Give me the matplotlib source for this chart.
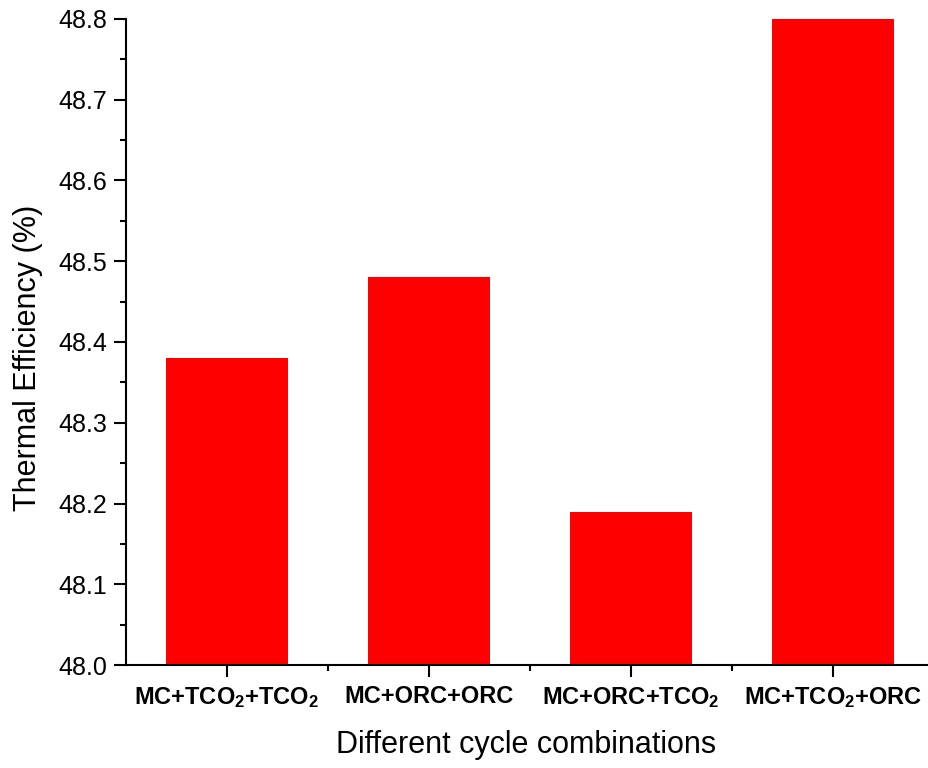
import matplotlib
matplotlib.use("Agg")
import matplotlib.pyplot as plt
from matplotlib.ticker import MultipleLocator, FixedLocator

plt.rcParams['font.family'] = ['Liberation Sans', 'DejaVu Sans']
plt.rcParams['mathtext.fontset'] = 'custom'
plt.rcParams['mathtext.bf'] = 'Liberation Sans:bold'
plt.rcParams['mathtext.rm'] = 'Liberation Sans:bold'
plt.rcParams['mathtext.default'] = 'bf'

# data
categories = [r'MC+TCO$_2$+TCO$_2$', 'MC+ORC+ORC',
              r'MC+ORC+TCO$_2$', r'MC+TCO$_2$+ORC']
efficiency = [48.38, 48.48, 48.19, 48.80]
positions = [1, 2, 3, 4]

fig = plt.figure(figsize=(9.29, 7.68), dpi=100)
ax = fig.add_axes([0.1356, 0.1341, 0.8622, 0.8412])

ax.bar(positions, [v - 48.0 for v in efficiency], width=0.6, bottom=48.0,
       color='#ff0000', edgecolor='none')

ax.set_xlim(0.5, 4.465)
ax.set_ylim(48.0, 48.8)

ax.set_xticks(positions)
ax.set_xticklabels(categories, fontsize=17, fontweight='bold')
ax.xaxis.set_minor_locator(FixedLocator([1.5, 2.5, 3.5]))
ax.yaxis.set_major_locator(MultipleLocator(0.1))
ax.yaxis.set_minor_locator(MultipleLocator(0.05))
ax.yaxis.set_major_formatter(matplotlib.ticker.FormatStrFormatter('%.1f'))

for s in ['top', 'right']:
    ax.spines[s].set_visible(False)
for s in ['left', 'bottom']:
    ax.spines[s].set_linewidth(1.5)

ax.tick_params(axis='both', which='major', direction='out', length=8.5, width=1.5)
ax.tick_params(axis='both', which='minor', direction='out', length=4.5, width=1.5)
ax.tick_params(axis='y', which='major', labelsize=18, pad=5)
ax.tick_params(axis='x', which='major', pad=6)

ax.set_xlabel('Different cycle combinations', fontsize=22)
ax.set_ylabel('Thermal Efficiency (%)', fontsize=22)
# label positions in axes fraction
ax.xaxis.set_label_coords(0.5, -0.1)
ax.yaxis.set_label_coords(-0.104, 0.475)

fig.savefig('out.png', dpi=100)
